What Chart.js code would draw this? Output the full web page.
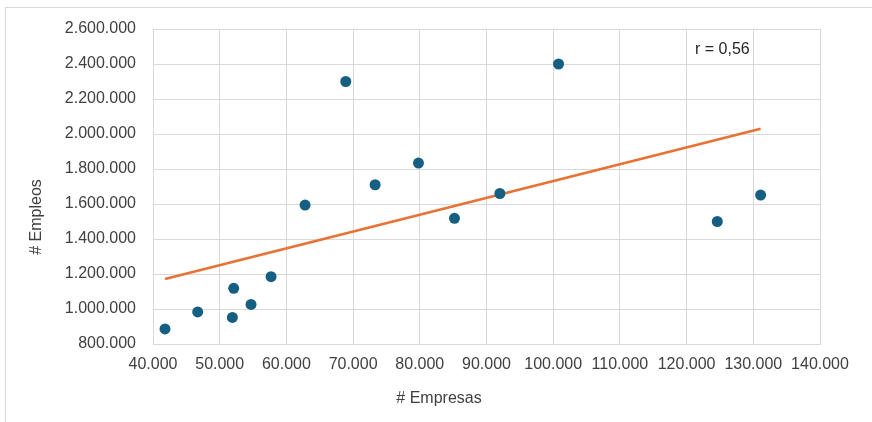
<!DOCTYPE html>
<html>
<head>
<meta charset="utf-8">
<script src="https://cdn.jsdelivr.net/npm/chart.js@4/dist/chart.umd.min.js"></script>
<style>
  html, body { margin: 0; padding: 0; background: #ffffff; overflow: hidden; }
  #wrap { position: relative; width: 872px; height: 422px; }
  #frame { position: absolute; left: 5px; top: 7px; width: 900px; height: 500px; border: 1px solid #d9d9d9; box-sizing: border-box; }
  canvas { position: absolute; left: 0; top: 0; }
</style>
</head>
<body>
<div id="wrap">
  <div id="frame"></div>
  <canvas id="c" width="872" height="422"></canvas>
</div>
<script>
// Data
const empresas = [41800, 46700, 51900, 52100, 54700, 57700, 62800, 68900, 73300, 79800, 85200, 92000, 100800, 124600, 131100];
const empleos  = [886000, 983000, 952000, 1118000, 1026000, 1185000, 1594000, 2300000, 1710000, 1834000, 1518000, 1660000, 2400000, 1500000, 1651000];
const trendX = [41800, 131100];
const trendY = [1171000, 2030000];
const xTicks = [40000, 50000, 60000, 70000, 80000, 90000, 100000, 110000, 120000, 130000, 140000];
const yTicks = [800000, 1000000, 1200000, 1400000, 1600000, 1800000, 2000000, 2200000, 2400000, 2600000];
const rLabel = 'r = 0,56';
const xTitle = '# Empresas';
const yTitle = '# Empleos';

const fmt = v => Math.round(v).toString().replace(/\B(?=(\d{3})+(?!\d))/g, '.');
const FONT = 'Liberation Sans, Arial, sans-serif';
const gridColor = '#d9d9d9';
const textColor = '#404040';

const textPlugin = {
  id: 'texts',
  afterDatasetsDraw(chart) {
    const ctx = chart.ctx, a = chart.chartArea;
    ctx.save();
    ctx.font = '16px ' + FONT;
    ctx.textBaseline = 'middle';
    // correlation label
    ctx.fillStyle = '#262626';
    ctx.textAlign = 'left';
    ctx.fillText(rLabel, a.left + 542, a.top + 21);
    // x axis title
    ctx.fillStyle = textColor;
    ctx.textAlign = 'center';
    ctx.fillText(xTitle, 439, 399);
    // y axis title
    ctx.translate(36.5, 217);
    ctx.rotate(-Math.PI / 2);
    ctx.fillText(yTitle, 0, 0);
    ctx.restore();
  }
};

new Chart(document.getElementById('c'), {
  type: 'scatter',
  data: {
    datasets: [
      {
        label: 'Empleos',
        data: empresas.map((x, i) => ({ x: x, y: empleos[i] })),
        backgroundColor: '#156082',
        borderColor: '#156082',
        pointRadius: 5.5,
        pointHoverRadius: 5.5,
        borderWidth: 0,
        order: 1
      },
      {
        label: 'Tendencia',
        type: 'line',
        data: trendX.map((x, i) => ({ x: x, y: trendY[i] })),
        borderColor: '#E97132',
        borderWidth: 2.5,
        pointRadius: 0,
        fill: false,
        tension: 0,
        order: 2
      }
    ]
  },
  options: {
    responsive: false,
    animation: false,
    devicePixelRatio: 1,
    layout: { padding: { left: 0, top: 29, right: 52, bottom: 0 } },
    plugins: { legend: { display: false }, tooltip: { enabled: false } },
    scales: {
      x: {
        type: 'linear',
        min: 40000, max: 140000,
        afterBuildTicks: s => { s.ticks = xTicks.map(v => ({ value: v })); },
        afterFit: s => { s.height = 78; },
        grid: { color: gridColor, lineWidth: 1, drawTicks: false },
        border: { display: true, color: gridColor, width: 1 },
        ticks: { padding: 11, color: textColor, font: { family: FONT, size: 16 }, maxRotation: 0, autoSkip: false, callback: v => fmt(v) }
      },
      y: {
        type: 'linear',
        min: 800000, max: 2600000,
        afterBuildTicks: s => { s.ticks = yTicks.map(v => ({ value: v })); },
        afterFit: s => { s.width = 153; },
        grid: { color: gridColor, lineWidth: 1, drawTicks: false },
        border: { display: true, color: gridColor, width: 1 },
        ticks: { padding: 17, color: textColor, font: { family: FONT, size: 16 }, autoSkip: false, callback: v => fmt(v) }
      }
    }
  },
  plugins: [textPlugin]
});
</script>
</body>
</html>
